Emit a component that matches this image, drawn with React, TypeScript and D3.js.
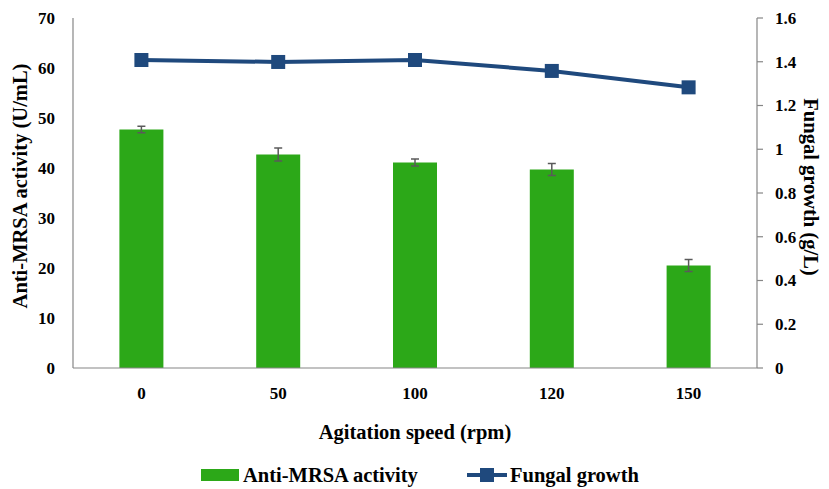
import React from 'react';
import * as d3 from 'd3';

const speeds = ['0', '50', '100', '120', '150'];
const activity = [47.7, 42.7, 41.1, 39.7, 20.5];
const activityErr = [0.65, 1.3, 0.7, 1.2, 1.2];
const growth = [1.408, 1.399, 1.408, 1.358, 1.283];
const leftTicks = [0, 10, 20, 30, 40, 50, 60, 70];
const rightTicks = [0, 0.2, 0.4, 0.6, 0.8, 1, 1.2, 1.4, 1.6];

const App = () => {
  const width = 829, height = 489;
  const left = 73, right = 757, top = 18, bottom = 368;
  const font = '"Liberation Serif", "Times New Roman", serif';
  const axisColour = '#868686';

  const x = d3.scaleBand().domain(speeds).range([left, right]).paddingInner(0).paddingOuter(0);
  const yL = d3.scaleLinear().domain([0, 70]).range([bottom, top]);
  const yR = d3.scaleLinear().domain([0, 1.6]).range([bottom, top]);
  const barW = 44;
  const cx = (s) => x(s) + x.bandwidth() / 2;

  const line = d3.line()
    .x((d, i) => cx(speeds[i]))
    .y(d => yR(d));

  return (
    <svg width={width} height={height} style={{ position: 'absolute', left: 0, top: 0 }}>
      <rect width={width} height={height} fill="white" />
      {/* bars */}
      {activity.map((v, i) => (
        <rect key={'b' + i} x={cx(speeds[i]) - barW / 2} y={yL(v)} width={barW} height={bottom - yL(v)} fill="#2ca818" />
      ))}
      {/* error bars */}
      {activity.map((v, i) => {
        const c = cx(speeds[i]);
        const y1 = yL(v + activityErr[i]), y2 = yL(v - activityErr[i]);
        return (
          <g key={'e' + i} stroke="#5a5a5a" strokeWidth={1.5}>
            <line x1={c} x2={c} y1={y1} y2={y2} />
            <line x1={c - 4} x2={c + 4} y1={y1} y2={y1} />
            <line x1={c - 4} x2={c + 4} y1={y2} y2={y2} />
          </g>
        );
      })}
      {/* axes */}
      <line x1={left} x2={left} y1={top} y2={bottom} stroke={axisColour} strokeWidth={1.2} />
      <line x1={right} x2={right} y1={top} y2={bottom} stroke={axisColour} strokeWidth={1.2} />
      <line x1={left} x2={right} y1={bottom} y2={bottom} stroke={axisColour} strokeWidth={1.2} />
      {rightTicks.map((t, i) => (
        <line key={'rt' + i} x1={right} x2={right + 6} y1={yR(t)} y2={yR(t)} stroke={axisColour} strokeWidth={1.2} />
      ))}
      {/* line series */}
      <path d={line(growth)} fill="none" stroke="#1f497d" strokeWidth={4} />
      {growth.map((g, i) => (
        <rect key={'m' + i} x={cx(speeds[i]) - 7} y={yR(g) - 7} width={14} height={14} fill="#1f497d" />
      ))}
      {/* tick labels */}
      <g fontFamily={font} fontWeight="bold" fontSize={17} fill="#000">
        {leftTicks.map(t => (
          <text key={'lt' + t} x={55} y={yL(t)} dy="0.35em" textAnchor="end">{t}</text>
        ))}
        {rightTicks.map(t => (
          <text key={'rl' + t} x={775} y={yR(t)} dy="0.35em" textAnchor="start">{t === 0 || t === 1 ? d3.format('d')(t) : d3.format('.1f')(t)}</text>
        ))}
        {speeds.map(s => (
          <text key={'xl' + s} x={cx(s)} y={393} dy="0.35em" textAnchor="middle">{s}</text>
        ))}
      </g>
      {/* titles */}
      <g fontFamily={font} fontWeight="bold" fontSize={20.5} fill="#000">
        <text x={415} y={432} dy="0.35em" textAnchor="middle">Agitation speed (rpm)</text>
        <text transform="translate(20,186) rotate(-90)" dy="0.35em" textAnchor="middle">Anti-MRSA activity (U/mL)</text>
        <text transform="translate(811,187) rotate(90)" dy="0.35em" textAnchor="middle">Fungal growth (g/L)</text>
      </g>
      {/* legend */}
      <g fontFamily={font} fontWeight="bold" fontSize={20.5} fill="#000">
        <rect x={201} y={469} width={38} height={12} fill="#2ca818" />
        <text x={243} y={475} dy="0.35em">Anti-MRSA activity</text>
        <line x1={467} x2={507} y1={475} y2={475} stroke="#1f497d" strokeWidth={4} />
        <rect x={480} y={468} width={14} height={14} fill="#1f497d" />
        <text x={510} y={475} dy="0.35em">Fungal growth</text>
      </g>
    </svg>
  );
};

export default App;
